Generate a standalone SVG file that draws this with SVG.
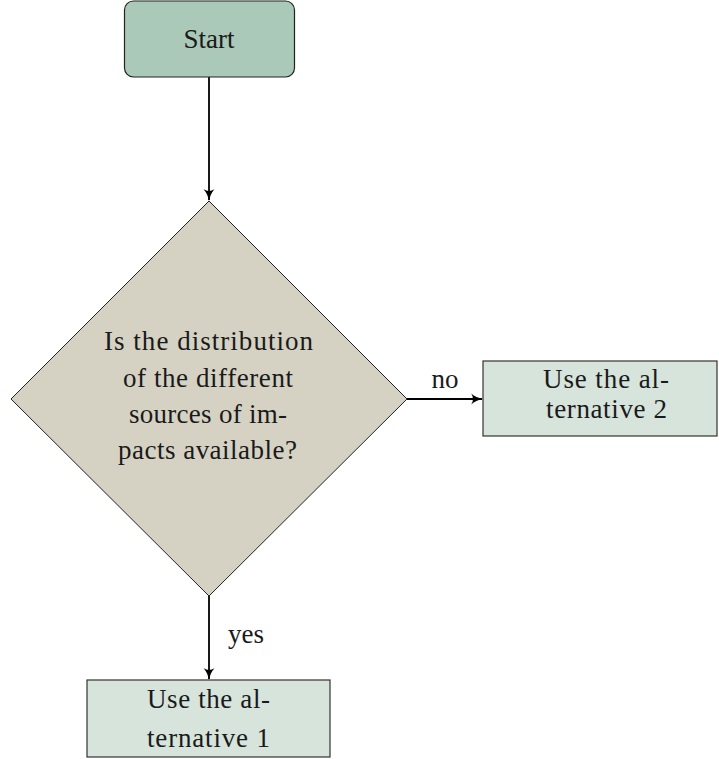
<svg xmlns="http://www.w3.org/2000/svg" width="719" height="759" viewBox="0 0 719 759">
<style>
text{font-size:27px;fill:#1a1a1a;text-anchor:middle}
.edge{stroke:#000;stroke-width:1.8;fill:none}
.box{fill:#d6e4dc;stroke:#333;stroke-width:1.2}
</style>
<defs>
<marker id="arr" viewBox="0 0 10 10" refX="9" refY="5" markerWidth="12" markerHeight="12" markerUnits="userSpaceOnUse" orient="auto">
<path d="M0,0.5 Q4,4 10,5 Q4,6 0,9.5 Q3,5 0,0.5 Z" fill="#000"/>
</marker>
</defs>
<rect width="719" height="759" fill="#fff"/>
<g font-family="'Liberation Serif', 'Times New Roman', serif">
<g id="connectors">
<line class="edge" x1="209" y1="77" x2="209" y2="200" marker-end="url(#arr)"/>
<line class="edge" x1="407" y1="399" x2="482" y2="399" marker-end="url(#arr)"/>
<line class="edge" x1="209" y1="596" x2="209" y2="679" marker-end="url(#arr)"/>
<text x="445" y="388">no</text>
<text x="246" y="643">yes</text>
</g>
<g id="start">
<rect x="124.5" y="1" width="170" height="76" rx="9" fill="#abc9b8" stroke="#222" stroke-width="1.2"/>
<text x="209" y="48">Start</text>
</g>
<g id="decision">
<polygon points="209,201 407,399 209,596 11,399" fill="#d5d2c3" stroke="#222" stroke-width="1"/>
<text x="208.5" y="350" textLength="209">Is the distribution</text>
<text x="208" y="387" textLength="170">of the different</text>
<text x="208" y="423" textLength="158">sources of im-</text>
<text x="207.5" y="459" textLength="179">pacts available?</text>
</g>
<g id="alt2">
<rect class="box" x="483" y="361" width="234" height="75"/>
<text x="606" y="388" textLength="126">Use the al-</text>
<text x="606.5" y="418" textLength="121">ternative 2</text>
</g>
<g id="alt1">
<rect class="box" x="87" y="680" width="243" height="77"/>
<text x="208.5" y="708" textLength="123">Use the al-</text>
<text x="208.5" y="747" textLength="123">ternative 1</text>
</g>
</g>
</svg>
